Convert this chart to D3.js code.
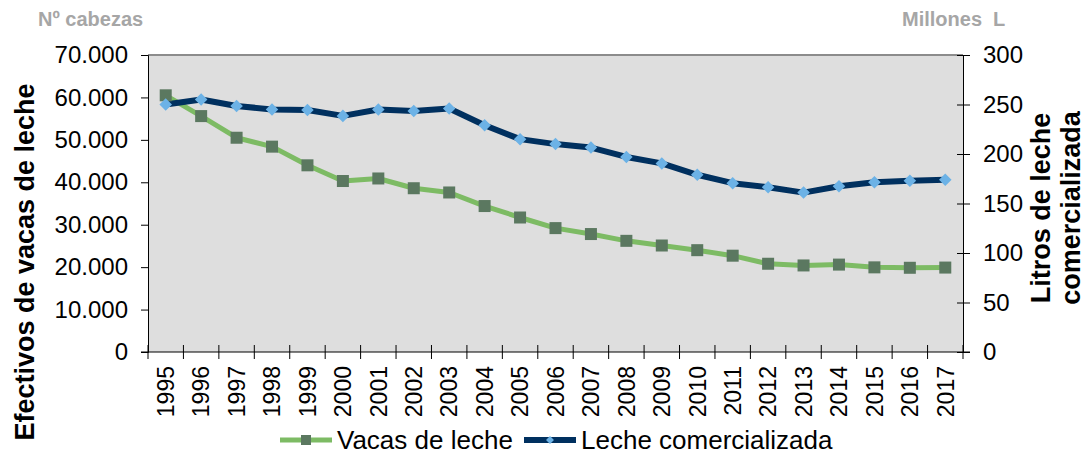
<!DOCTYPE html>
<html>
<head>
<meta charset="utf-8">
<script src="https://cdn.jsdelivr.net/npm/d3@7"></script>
<style>
  body { margin: 0; background: #fff; }
  svg { display: block; font-family: "Liberation Sans", Arial, sans-serif; }
</style>
</head>
<body>
<div id="chart"></div>
<script>
// --------------- Data ---------------
const YEARS = d3.range(1995, 2018).map(String);
const VACAS = [60500, 55600, 50500, 48400, 44000, 40300, 40900, 38600, 37600, 34400,
  31700, 29200, 27800, 26200, 25100, 24000, 22700, 20800, 20400, 20600, 19950, 19850, 19900];
const LECHE = [250, 255, 248.5, 245, 244.5, 238.5, 245, 243.5, 246, 229, 215, 210, 206.5,
  197, 190.5, 179, 170.5, 166.5, 161, 167.5, 171.5, 173, 174];
const LEFT_TICKS = [0, 10000, 20000, 30000, 40000, 50000, 60000, 70000];
const RIGHT_TICKS = [0, 50, 100, 150, 200, 250, 300];
const SERIES_NAMES = ["Vacas de leche", "Leche comercializada"];

// --------------- Constants ---------------
const WIDTH = 1092;
const HEIGHT = 456;
const PLOT = { left: 148, right: 963, top: 55, bottom: 352 };
const GREEN = "#7dbb64";
const GREEN_MARK = "#5b7860";
const NAVY = "#00305f";
const BLUE_MARK = "#6cb2e6";

const es = d3.formatLocale({ decimal: ",", thousands: ".", grouping: [3], currency: ["", ""] });
const fmt = es.format(",d");

const svg = d3.select("#chart").append("svg")
  .attr("width", WIDTH)
  .attr("height", HEIGHT);

const x = d3.scaleBand().domain(YEARS).range([PLOT.left, PLOT.right]);
const yL = d3.scaleLinear().domain([0, 70000]).range([PLOT.bottom, PLOT.top]);
const yR = d3.scaleLinear().domain([0, 300]).range([PLOT.bottom, PLOT.top]);
const cx = (d) => x(d) + x.bandwidth() / 2;

// plot background + top border
svg.append("rect")
  .attr("x", PLOT.left).attr("y", PLOT.top)
  .attr("width", PLOT.right - PLOT.left).attr("height", PLOT.bottom - PLOT.top)
  .attr("fill", "#dedede");
svg.append("line")
  .attr("x1", PLOT.left).attr("x2", PLOT.right)
  .attr("y1", PLOT.top).attr("y2", PLOT.top)
  .attr("stroke", "#8c8c8c").attr("stroke-width", 2);

// left axis
const gL = svg.append("g")
  .attr("transform", `translate(${PLOT.left},0)`)
  .call(d3.axisLeft(yL).tickValues(LEFT_TICKS).tickFormat(fmt).tickSize(7).tickPadding(13));
gL.selectAll("text").attr("font-size", "24px").attr("fill", "#000");

// right axis (ticks cross the line)
const gR = svg.append("g")
  .attr("transform", `translate(${PLOT.right},0)`)
  .call(d3.axisRight(yR).tickValues(RIGHT_TICKS).tickSize(7).tickPadding(13));
gR.selectAll(".tick line").attr("x1", -6);
gR.selectAll("text").attr("font-size", "24px").attr("fill", "#000");

// bottom axis: labels at band centres, ticks at band edges
const gB = svg.append("g")
  .attr("transform", `translate(0,${PLOT.bottom})`)
  .call(d3.axisBottom(x).tickSize(0));
gB.select(".domain").remove();
gB.append("line")
  .attr("x1", PLOT.left - 7).attr("x2", PLOT.right + 7)
  .attr("stroke", "#000");
gB.selectAll(".edge")
  .data(YEARS.concat(["end"]))
  .enter().append("line")
  .attr("class", "edge")
  .attr("x1", (d) => (d === "end" ? x.range()[1] : x(d)))
  .attr("x2", (d) => (d === "end" ? x.range()[1] : x(d)))
  .attr("y1", -7).attr("y2", 7)
  .attr("stroke", "#000");
gB.selectAll(".tick text")
  .attr("font-size", "23px").attr("fill", "#000")
  .attr("text-anchor", "end")
  .attr("transform", "rotate(-90)")
  .attr("x", -14).attr("y", 0).attr("dy", "0.36em");

// lines
const lineL = d3.line().x((d, i) => cx(YEARS[i])).y((d) => yL(d));
const lineR = d3.line().x((d, i) => cx(YEARS[i])).y((d) => yR(d));

svg.append("path").datum(VACAS)
  .attr("d", lineL).attr("fill", "none")
  .attr("stroke", GREEN).attr("stroke-width", 5).attr("stroke-linejoin", "round");
svg.append("path").datum(LECHE)
  .attr("d", lineR).attr("fill", "none")
  .attr("stroke", NAVY).attr("stroke-width", 6).attr("stroke-linejoin", "round");

// markers
const SQ = 12;
svg.append("g").selectAll("rect")
  .data(VACAS).enter().append("rect")
  .attr("x", (d, i) => cx(YEARS[i]) - SQ / 2)
  .attr("y", (d) => yL(d) - SQ / 2)
  .attr("width", SQ).attr("height", SQ)
  .attr("fill", GREEN_MARK);

const diamond = d3.symbol().type(d3.symbolDiamond2).size(100);
svg.append("g").selectAll("path")
  .data(LECHE).enter().append("path")
  .attr("d", diamond)
  .attr("transform", (d, i) => `translate(${cx(YEARS[i])},${yR(d)})`)
  .attr("fill", BLUE_MARK);

// axis titles
svg.append("text")
  .attr("transform", `translate(34,262) rotate(-90)`)
  .attr("text-anchor", "middle")
  .attr("font-size", "27px").attr("font-weight", "bold")
  .text("Efectivos de vacas de leche");

const rt = svg.append("text")
  .attr("transform", `translate(1050,208) rotate(-90)`)
  .attr("text-anchor", "middle")
  .attr("font-size", "27px").attr("font-weight", "bold");
rt.append("tspan").attr("x", 0).attr("y", 0).text("Litros de leche");
rt.append("tspan").attr("x", 0).attr("y", 30).text("comercializada");

// unit labels
svg.append("text")
  .attr("x", 38).attr("y", 26)
  .attr("font-size", "20px").attr("font-weight", "bold").attr("fill", "#a6a6a6")
  .text("Nº cabezas");
svg.append("text")
  .attr("x", 902).attr("y", 26)
  .attr("font-size", "20px").attr("font-weight", "bold").attr("fill", "#a6a6a6")
  .attr("xml:space", "preserve")
  .text("Millones  L");

// legend
const LEG_Y = 440;
const legend = svg.append("g");
const legItems = [
  { name: SERIES_NAMES[0], x0: 280, color: GREEN, w: 5, mark: "sq" },
  { name: SERIES_NAMES[1], x0: 524, color: NAVY, w: 6, mark: "dia" }
];
legItems.forEach((it) => {
  legend.append("line")
    .attr("x1", it.x0).attr("x2", it.x0 + 52)
    .attr("y1", LEG_Y).attr("y2", LEG_Y)
    .attr("stroke", it.color).attr("stroke-width", it.w);
  if (it.mark === "sq") {
    legend.append("rect")
      .attr("x", it.x0 + 26 - 5).attr("y", LEG_Y - 5)
      .attr("width", 10).attr("height", 10).attr("fill", GREEN_MARK);
  } else {
    legend.append("path")
      .attr("d", d3.symbol().type(d3.symbolDiamond2).size(40))
      .attr("transform", `translate(${it.x0 + 26},${LEG_Y})`)
      .attr("fill", BLUE_MARK);
  }
  legend.append("text")
    .attr("x", it.x0 + 57).attr("y", LEG_Y).attr("dy", "0.36em")
    .attr("font-size", "26px")
    .text(it.name);
});
</script>
</body>
</html>
